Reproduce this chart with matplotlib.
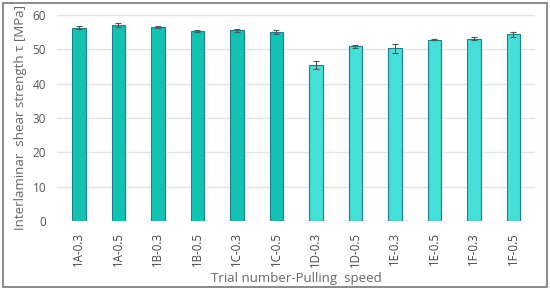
import matplotlib

matplotlib.use("Agg")
import matplotlib.pyplot as plt
from matplotlib.patches import Rectangle

labels = ["1A-0.3", "1A-0.5", "1B-0.3", "1B-0.5", "1C-0.3", "1C-0.5",
          "1D-0.3", "1D-0.5", "1E-0.3", "1E-0.5", "1F-0.3", "1F-0.5"]
values = [56.2, 57.0, 56.4, 55.2, 55.5, 55.0, 45.3, 50.8, 50.2, 52.8, 53.0, 54.3]
errors = [0.4, 0.5, 0.2, 0.3, 0.4, 0.5, 1.2, 0.5, 1.2, 0.2, 0.4, 0.8]
colors = ["#12c3b3"] * 6 + ["#44e0d8"] * 6

plt.rcParams["font.family"] = ["Open Sans", "DejaVu Sans"]
fig = plt.figure(figsize=(5.5, 2.96), dpi=100)
ax = fig.add_axes([0.104, 0.253, 0.869, 0.697])

x = range(len(labels))
ax.bar(x, values, width=0.34, color=colors, edgecolor="#1f7f8c", linewidth=0.8, zorder=3)
ax.errorbar(x, values, yerr=errors, fmt="none", ecolor="#555555", elinewidth=0.8,
            capsize=2.5, capthick=0.8, zorder=4)

ax.set_ylim(0, 60)
ax.set_xlim(-0.55, len(labels) - 0.45)
ax.set_yticks(range(0, 61, 10))
ax.set_xticks(list(x))
ax.set_xticklabels(labels, rotation=90, fontsize=8.3, color="#444444")
ax.tick_params(axis="y", labelsize=8.5, colors="#555555", length=0, pad=8)
ax.tick_params(axis="x", length=0, pad=8)
ax.grid(axis="y", color="#e4e4e4", lw=1, zorder=0)
for s in ax.spines.values():
    s.set_visible(False)
ax.set_ylabel("Interlaminar  shear strength τ [MPa]", fontsize=9.5, color="#666666")
ax.set_xlabel("Trial number-Pulling  speed", fontsize=9.5, color="#666666", labelpad=3)

fig.patches.append(Rectangle((0.006, 0.03), 0.988, 0.96, transform=fig.transFigure,
                             fill=False, edgecolor="#777777", lw=1.2))

fig.savefig("out.png", dpi=100)
